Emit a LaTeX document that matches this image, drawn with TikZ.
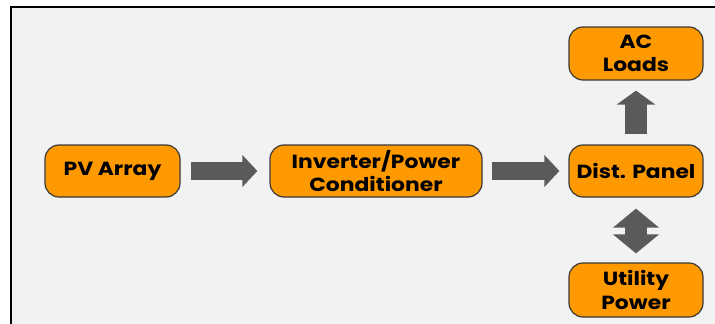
\documentclass[tikz,border=0pt]{standalone}
\usepackage{fontspec}
\setmainfont{Poppins}
\newfontfamily\boxfont{Poppins}[FakeStretch=1.15]
\usetikzlibrary{arrows.meta}
\definecolor{bgc}{HTML}{F2F2F2}
\definecolor{boxc}{HTML}{FF9900}
\definecolor{edgec}{HTML}{3A3A3A}
\definecolor{arrc}{HTML}{5A5A5A}
\tikzset{
  blk/.style={draw=edgec, line width=1.2pt, fill=boxc, rounded corners=14pt,
    minimum width=134pt, minimum height=52pt, inner sep=2pt, align=center,
    font=\boxfont\fontsize{19}{23.5}\selectfont\bfseries, text=black},
  blkarrow/.style={draw=arrc, line width=18pt,
    -{Triangle[width=31pt,length=15pt]}},
  uparrow/.style={draw=arrc, line width=22pt, -{Triangle[width=38pt,length=14pt]}},
  dblarrow/.style={draw=arrc, line width=22pt,
    {Triangle[width=45pt,length=19pt]}-{Triangle[width=45pt,length=19pt]}},
}
\begin{document}
\begin{tikzpicture}[x=1pt,y=-1pt]
\useasboundingbox (0,0) rectangle (715,324);
\fill[bgc] (11,7) rectangle (715,324);
\draw[black, line width=2.5pt] (11,324) -- (11,7) -- (715,7);
\node[blk, minimum width=135pt] (pv) at (112.5,171) {PV Array};
\node[blk, minimum width=212pt] (inv) at (376,171) {Inverter/Power\\Conditioner};
\node[blk] (dist) at (636,171) {Dist. Panel};
\node[blk, minimum height=53pt] (ac) at (636,53.5) {AC\\Loads};
\node[blk, minimum height=54pt] (util) at (636,290) {Utility\\Power};
\draw[blkarrow, shorten <=10pt, shorten >=12pt] (pv.east) -- (inv.west);
\draw[blkarrow, shorten <=9pt, shorten >=9pt] (inv.east) -- (dist.west);
\draw[uparrow, shorten <=10pt, shorten >=10pt] (dist.north) -- (ac.south);
\draw[dblarrow, shorten <=11pt, shorten >=9pt] (dist.south) -- (util.north);
\end{tikzpicture}
\end{document}
